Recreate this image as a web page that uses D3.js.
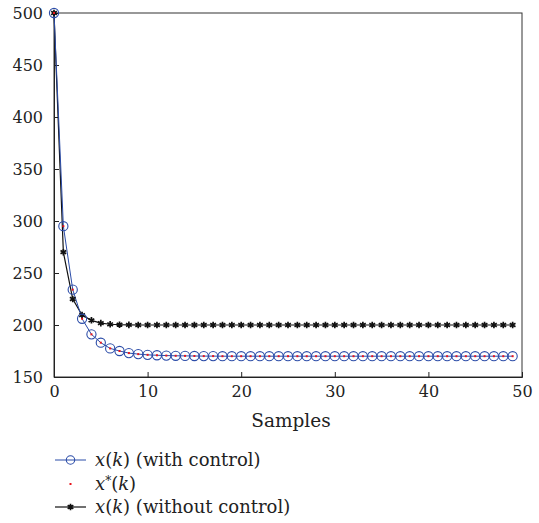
<!DOCTYPE html>
<html><head><meta charset="utf-8">
<script src="https://cdn.jsdelivr.net/npm/d3@7"></script>
<style>body{margin:0;background:#fff}svg{display:block}text{font-family:"DejaVu Serif",serif;fill:#222}</style>
</head><body><svg id="c" width="539" height="523"></svg>
<script>
const samples = d3.range(0, 50);
const withControl = [500, 295, 234, 206, 191, 183, 177.5, 175, 173, 172, 171.3, 170.9, 170.6, 170.4, 170.3, 170.2, 170.1, 170.1, 170, 170,
  170, 170, 170, 170, 170, 170, 170, 170, 170, 170, 170, 170, 170, 170, 170, 170, 170, 170, 170, 170,
  170, 170, 170, 170, 170, 170, 170, 170, 170, 170];
const xStar = [500, 295, 234, 206, 191, 183, 177.5, 175, 173, 172, 171.3, 170.9, 170.6, 170.4, 170.3, 170.2, 170.1, 170.1, 170, 170,
  170, 170, 170, 170, 170, 170, 170, 170, 170, 170, 170, 170, 170, 170, 170, 170, 170, 170, 170, 170,
  170, 170, 170, 170, 170, 170, 170, 170, 170, 170];
const withoutControl = [500, 270, 225, 209.5, 204.5, 201.8, 200.7, 200.3, 200.1, 200, 200, 200, 200, 200, 200, 200, 200, 200, 200, 200,
  200, 200, 200, 200, 200, 200, 200, 200, 200, 200, 200, 200, 200, 200, 200, 200, 200, 200, 200, 200,
  200, 200, 200, 200, 200, 200, 200, 200, 200, 200];
const xTicks = [0, 10, 20, 30, 40, 50];
const yTicks = [150, 200, 250, 300, 350, 400, 450, 500];
const legendLabels = ["(with control)", "", "(without control)"];

const svg = d3.select("#c");
const L = 54, R = 522, T = 13, B = 377;
const x = d3.scaleLinear().domain([0, 50]).range([L, R]);
const y = d3.scaleLinear().domain([150, 500]).range([B, T]);
const blue = "#2b4ca8";
const FONT = "DejaVu Serif, serif";

// frame
svg.append("rect").attr("x", L).attr("y", T).attr("width", R - L).attr("height", B - T)
  .attr("fill", "none").attr("stroke", "#333").attr("stroke-width", 1);

const xAxis = svg.append("g").attr("transform", `translate(0,${B})`)
  .call(d3.axisBottom(x).tickValues(xTicks).tickSize(-5).tickPadding(9).tickFormat(d3.format("d")));
const yAxis = svg.append("g").attr("transform", `translate(${L},0)`)
  .call(d3.axisLeft(y).tickValues(yTicks).tickSize(-5).tickPadding(11).tickFormat(d3.format("d")));
[xAxis, yAxis].forEach(g => {
  g.select(".domain").attr("stroke", "#222");
  g.selectAll(".tick line").attr("stroke", "#222");
  g.selectAll("text").attr("font-size", 16).attr("fill", "#333").attr("font-family", FONT);
});

svg.append("text").attr("x", 291).attr("y", 427).attr("text-anchor", "middle")
  .attr("font-size", 18.5).attr("fill", "#333").text("Samples");

const line = d3.line().x((d, i) => x(samples[i])).y(d => y(d));

svg.append("path").datum(withoutControl).attr("d", line).attr("fill", "none").attr("stroke", "#111").attr("stroke-width", 1.2);
svg.append("path").datum(withControl).attr("d", line).attr("fill", "none").attr("stroke", blue).attr("stroke-width", 1);

const star = d3.symbol().type(d3.symbolAsterisk).size(30);
svg.append("g").selectAll("path").data(withoutControl).join("path")
  .attr("transform", (d, i) => `translate(${x(samples[i])},${y(d)})`)
  .attr("d", star).attr("fill", "none").attr("stroke", "#111").attr("stroke-width", 1.7);

svg.append("g").selectAll("circle").data(withControl).join("circle")
  .attr("cx", (d, i) => x(samples[i])).attr("cy", d => y(d)).attr("r", 4.6)
  .attr("fill", "none").attr("stroke", blue).attr("stroke-width", 1.1);

svg.append("g").selectAll("rect").data(xStar).join("rect")
  .attr("x", (d, i) => x(samples[i]) - 1).attr("y", d => y(d) - 1)
  .attr("width", 2).attr("height", 2).attr("fill", "#e8141c");

// legend
const lg = svg.append("g");
const ly = [460, 484, 507];
lg.append("line").attr("x1", 55).attr("x2", 86).attr("y1", ly[0]).attr("y2", ly[0]).attr("stroke", blue).attr("stroke-width", 1);
lg.append("circle").attr("cx", 70.5).attr("cy", ly[0]).attr("r", 4.2).attr("fill", "none").attr("stroke", blue).attr("stroke-width", 1.1);
lg.append("rect").attr("x", 69.5).attr("y", ly[1] - 1).attr("width", 2).attr("height", 2).attr("fill", "#e8141c");
lg.append("line").attr("x1", 55).attr("x2", 86).attr("y1", ly[2]).attr("y2", ly[2]).attr("stroke", "#111").attr("stroke-width", 1.2);
lg.append("path").attr("transform", `translate(70.5,${ly[2]})`).attr("d", star).attr("fill", "none").attr("stroke", "#111").attr("stroke-width", 1.7);

function mathLabel(yy, starred, rest) {
  const t = lg.append("text").attr("x", 95).attr("y", yy + 5.5).attr("font-size", 18).attr("fill", "#333");
  t.append("tspan").attr("font-style", "italic").text("x");
  if (starred) t.append("tspan").attr("font-size", 12).attr("dy", -5).text("*");
  t.append("tspan").attr("dy", starred ? 5 : 0).text("(");
  t.append("tspan").attr("font-style", "italic").text("k");
  t.append("tspan").text(")" + (rest ? " " + rest : ""));
}
mathLabel(ly[0], false, legendLabels[0]);
mathLabel(ly[1], true, legendLabels[1]);
mathLabel(ly[2], false, legendLabels[2]);
</script></body></html>
